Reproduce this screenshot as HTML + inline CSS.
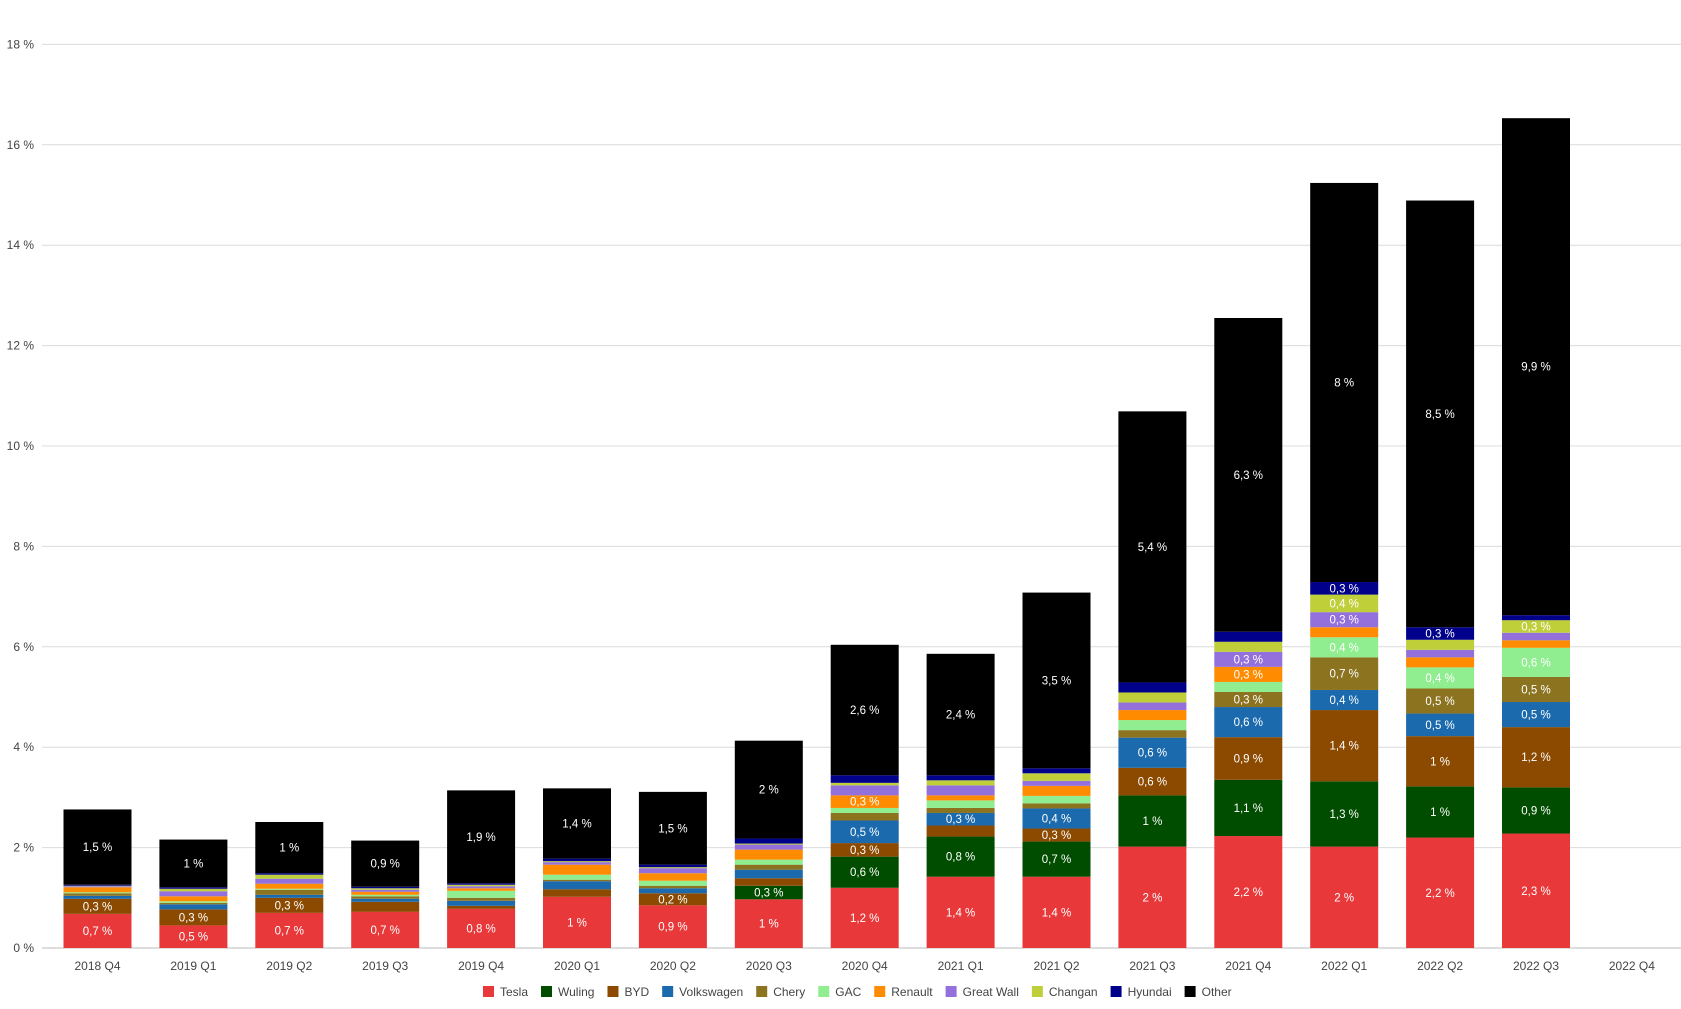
<!DOCTYPE html>
<html><head><meta charset="utf-8"><style>
html,body{margin:0;padding:0;background:#fff;}
svg{display:block;font-family:"Liberation Sans",sans-serif;}
</style></head><body>
<svg id="c" width="1681" height="1009"></svg>
<script>
const categories=["2018 Q4","2019 Q1","2019 Q2","2019 Q3","2019 Q4","2020 Q1","2020 Q2","2020 Q3","2020 Q4","2021 Q1","2021 Q2","2021 Q3","2021 Q4","2022 Q1","2022 Q2","2022 Q3","2022 Q4"];
const seriesNames=["Tesla","Wuling","BYD","Volkswagen","Chery","GAC","Renault","Great Wall","Changan","Hyundai","Other"];
const seriesColors=["#e8383a","#004d00","#8b4a00","#1a6aad","#8b7320","#90ee90","#ff8c00","#9370db","#bfcf3a","#00008b","#000000"];
const tesla=[0.68,0.45,0.7,0.72,0.78,1.02,0.85,0.97,1.2,1.42,1.42,2.02,2.23,2.02,2.2,2.28,0];
const wuling=[0,0,0,0,0,0,0,0.27,0.62,0.8,0.7,1.02,1.12,1.3,1.02,0.92,0];
const byd=[0.3,0.32,0.3,0.2,0.06,0.15,0.24,0.15,0.27,0.22,0.26,0.55,0.85,1.42,1.0,1.2,0];
const volkswagen=[0.06,0.1,0.06,0.06,0.1,0.16,0.1,0.17,0.45,0.25,0.4,0.6,0.6,0.4,0.45,0.5,0];
const chery=[0.05,0.03,0.1,0.05,0.06,0.03,0.05,0.1,0.15,0.1,0.1,0.15,0.3,0.65,0.5,0.5,0];
const gac=[0.02,0.03,0.02,0.03,0.14,0.1,0.1,0.1,0.1,0.15,0.15,0.2,0.2,0.4,0.42,0.58,0];
const renault=[0.1,0.1,0.1,0.06,0.05,0.2,0.15,0.2,0.25,0.1,0.2,0.2,0.3,0.2,0.2,0.15,0];
const greatWall=[0.02,0.1,0.1,0.04,0.04,0.05,0.1,0.1,0.2,0.2,0.1,0.15,0.3,0.3,0.15,0.15,0];
const changan=[0.01,0.05,0.08,0.03,0.03,0.02,0.02,0.02,0.05,0.1,0.15,0.2,0.2,0.35,0.2,0.25,0];
const hyundai=[0.02,0.03,0.03,0.03,0.03,0.05,0.05,0.1,0.15,0.1,0.1,0.2,0.2,0.25,0.25,0.1,0];
const other=[1.5,0.95,1.02,0.92,1.85,1.4,1.45,1.95,2.6,2.42,3.5,5.4,6.25,7.95,8.5,9.9,0];
const yTicks=[0,2,4,6,8,10,12,14,16,18];

const series=[tesla,wuling,byd,volkswagen,chery,gac,renault,greatWall,changan,hyundai,other];
const NS="http://www.w3.org/2000/svg";
const svg=document.getElementById("c");
const y0=948,pxPer=50.2,plotL=42,plotR=1681;
const yScale=v=>y0-v*pxPer;
const xCenter=i=>97.5+i*95.9;
const barW=68;
function mk(t,a){const e=document.createElementNS(NS,t);for(const k in a)e.setAttribute(k,a[k]);svg.appendChild(e);return e;}
yTicks.forEach(t=>{
  const l=mk("line",{x1:plotL,x2:plotR,y1:yScale(t),y2:yScale(t),stroke:t===0?"#bbb":"#dcdcdc","stroke-width":1});
  
  
  const tx=mk("text",{x:34,y:yScale(t)+4,"text-anchor":"end","font-size":12,fill:"#444"});
  tx.textContent=t+" %";
  
  
});
categories.forEach((c,i)=>{
  let cum=0;
  series.forEach((s,k)=>{
    const v=s[i];if(!v)return;
    const yt=yScale(cum+v),yb=yScale(cum);
    const r=mk("rect",{x:xCenter(i)-barW/2,y:yt,width:barW,height:yb-yt,fill:seriesColors[k]});
    
    
    if(yb-yt>=12){
      const t=mk("text",{x:xCenter(i),y:(yt+yb)/2+4,"text-anchor":"middle","font-size":11.5,fill:"#fff"});
      const rv=Math.round(v*10)/10;
      t.textContent=String(rv).replace('.',',')+" %";
      
      
    }
    cum+=v;
  });
  const t=mk("text",{x:xCenter(i),y:970,"text-anchor":"middle","font-size":12,fill:"#444"});
  t.textContent=c;
  
  
});
let lx=483;
seriesNames.forEach((n,k)=>{
  const g=mk("rect",{x:lx,y:986,width:11,height:11,fill:seriesColors[k]});
  
  
  const t=mk("text",{x:lx+17,y:996,"font-size":12,fill:"#444"});
  t.textContent=n;
  
  
  lx+=17+t.getComputedTextLength()+13;
});
</script>
</body></html>
